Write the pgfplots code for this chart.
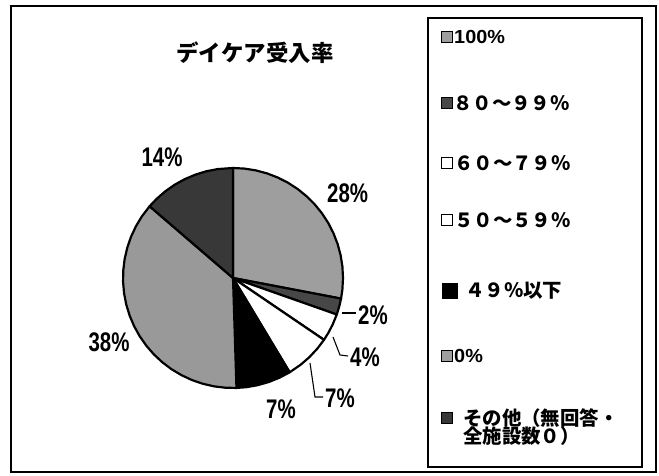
\documentclass[border=0pt]{standalone}
\usepackage{pgfplots}
\pgfplotsset{compat=1.18}
\usepackage{fontspec}
\setmainfont{Noto Sans CJK JP}
\newfontfamily\lab[FakeStretch=0.76]{Liberation Sans}
\newfontfamily\lsans[FakeStretch=1.05]{Liberation Sans}
\begin{document}
\begin{tikzpicture}
\begin{axis}[
  at={(0,0)}, anchor=south west,
  scale only axis, width=659bp, height=476bp,
  xmin=-233, xmax=426, ymin=-198, ymax=278,
  hide axis, clip=false]
\path (axis cs:-233,-198) rectangle (axis cs:426,278);
% outer frame
\draw[line width=1.8pt] (axis cs:-222,272) rectangle (axis cs:423,-194);
% slices (angle, radius), clockwise from 12 o'clock
% 100% : 28%
\addplot[draw=black, fill=black!38, line width=2.2pt, line join=round, data cs=polar] coordinates {
 (0,0) (90,110) (84,110) (78,110) (72,110) (66,110) (60,110) (54,110) (48,110) (42,110) (36,110)
 (30,110) (24,110) (18,110) (12,110) (6,110) (0,110) (-6,110) (-10.8,110) (0,0)};
% 80-99% : 2%
\addplot[draw=black, fill=black!72, line width=2.2pt, line join=round, data cs=polar] coordinates {
 (0,0) (-10.8,110) (-15,110) (-19.4,110) (0,0)};
% 60-79% : 4%
\addplot[draw=black, fill=white, line width=2.2pt, line join=round, data cs=polar] coordinates {
 (0,0) (-19.4,110) (-25,110) (-30,110) (-34.2,110) (0,0)};
% 50-59% : 7%
\addplot[draw=black, fill=white, line width=2.2pt, line join=round, data cs=polar] coordinates {
 (0,0) (-34.2,110) (-40,110) (-46,110) (-52,110) (-59,110) (0,0)};
% 49% or less : 7%
\addplot[draw=black, fill=black, line width=2.2pt, line join=round, data cs=polar] coordinates {
 (0,0) (-59,110) (-65,110) (-71,110) (-77,110) (-83,110) (-88.2,110) (0,0)};
% 0% : 38%
\addplot[draw=black, fill=black!40, line width=2.2pt, line join=round, data cs=polar] coordinates {
 (0,0) (-88.2,110) (-94,110) (-100,110) (-106,110) (-112,110) (-118,110) (-124,110) (-130,110)
 (-136,110) (-142,110) (-148,110) (-154,110) (-160,110) (-166,110) (-172,110) (-178,110)
 (-184,110) (-190,110) (-196,110) (-202,110) (-208,110) (-214,110) (-220.7,110) (0,0)};
% other : 14%
\addplot[draw=black, fill=black!78, line width=2.2pt, line join=round, data cs=polar] coordinates {
 (0,0) (-220.7,110) (-226,110) (-232,110) (-238,110) (-244,110) (-250,110) (-256,110)
 (-262,110) (-270,110) (0,0)};
% leader lines
\addplot[black, line width=1.1pt] coordinates {(109,-35) (123,-35)};
\addplot[black, line width=1.1pt] coordinates {(100,-59) (107,-77) (115,-78)};
\addplot[black, line width=1.1pt] coordinates {(77,-85) (82,-119) (90,-119)};
% title
\node at (axis cs:22,225) {\bfseries\fontsize{22.5}{22.5}\selectfont デイケア受入率};
% data labels
\node[anchor=west, inner sep=0] at (axis cs:94,85) {\lab\bfseries\fontsize{27}{27}\selectfont 28\%};
\node[inner sep=0] at (axis cs:-71,121) {\lab\bfseries\fontsize{27}{27}\selectfont 14\%};
\node[inner sep=0] at (axis cs:-124,-64) {\lab\bfseries\fontsize{27}{27}\selectfont 38\%};
\node[inner sep=0] at (axis cs:48,-131) {\lab\bfseries\fontsize{27}{27}\selectfont 7\%};
\node[anchor=west, inner sep=0] at (axis cs:125,-37) {\lab\bfseries\fontsize{27}{27}\selectfont 2\%};
\node[anchor=west, inner sep=0] at (axis cs:117,-79) {\lab\bfseries\fontsize{27}{27}\selectfont 4\%};
\node[anchor=west, inner sep=0] at (axis cs:92,-120) {\lab\bfseries\fontsize{27}{27}\selectfont 7\%};
% legend box
\draw[line width=1.8pt] (axis cs:195,260) rectangle (axis cs:409,-189);
\node[draw, line width=1.5pt, fill=black!38, minimum size=11bp, inner sep=0] at (axis cs:214,241) {};
\node[anchor=west, inner sep=0] at (axis cs:221,241) {\lsans\bfseries\fontsize{19}{19}\selectfont 100\%};
\node[draw, line width=1.5pt, fill=black!72, minimum size=11bp, inner sep=0] at (axis cs:214,175) {};
\node[anchor=west, inner sep=0] at (axis cs:220,175) {\bfseries\fontsize{19.5}{19.5}\selectfont ８０～９９％};
\node[draw, line width=1.8pt, fill=white, minimum size=11bp, inner sep=0] at (axis cs:214,115) {};
\node[anchor=west, inner sep=0] at (axis cs:221,115) {\bfseries\fontsize{19.5}{19.5}\selectfont ６０～７９％};
\node[draw, line width=1.8pt, fill=white, minimum size=11bp, inner sep=0] at (axis cs:214,58) {};
\node[anchor=west, inner sep=0] at (axis cs:221,58) {\bfseries\fontsize{19.5}{19.5}\selectfont ５０～５９％};
\node[draw, fill=black, minimum size=15bp, inner sep=0] at (axis cs:217,-13) {};
\node[anchor=west, inner sep=0] at (axis cs:232,-13) {\bfseries\fontsize{19.5}{19.5}\selectfont ４９％以下};
\node[draw, line width=1.5pt, fill=black!38, minimum size=11bp, inner sep=0] at (axis cs:214,-78) {};
\node[anchor=west, inner sep=0] at (axis cs:221,-78) {\lsans\bfseries\fontsize{19}{19}\selectfont 0\%};
\node[draw, line width=1.5pt, fill=black!78, minimum size=11bp, inner sep=0] at (axis cs:214,-140) {};
\node[anchor=west, inner sep=0] at (axis cs:230,-140) {\bfseries\fontsize{19.5}{19.5}\selectfont その他（無回答・};
\node[anchor=west, inner sep=0] at (axis cs:230,-158) {\bfseries\fontsize{19.5}{19.5}\selectfont 全施設数０）};
\end{axis}
\end{tikzpicture}
\end{document}
